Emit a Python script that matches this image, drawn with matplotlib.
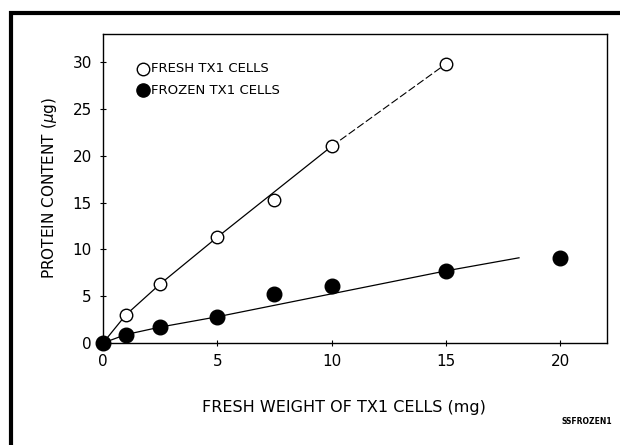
import numpy as np
import matplotlib
matplotlib.use('Agg')
import matplotlib.pyplot as plt
from matplotlib.patches import Rectangle

# fresh weight (mg) vs protein content (ug)
fresh_x = [1, 2.5, 5, 7.5, 10, 15]
fresh_y = [3.0, 6.3, 11.3, 15.3, 21.0, 29.8]
frozen_x = [0, 1, 2.5, 5, 7.5, 10, 15, 20]
frozen_y = [0, 0.9, 1.7, 2.8, 5.2, 6.1, 7.7, 9.1]

# drawn fit lines (solid lower part, broken upper part on the fresh one)
fresh_fit_x = [0, 1, 2.5, 5, 10]
fresh_fit_y = [0, 3.0, 6.3, 11.3, 21.0]
fresh_fit2_x = [10, 15]
fresh_fit2_y = [21.0, 29.8]
frozen_fit_x = [0, 1, 2.5, 5, 15, 18.2]
frozen_fit_y = [0, 0.9, 1.7, 2.8, 7.7, 9.1]

xticks = [0, 5, 10, 15, 20]
yticks = [0, 5, 10, 15, 20, 25, 30]

fig = plt.figure(figsize=(6.2, 4.45), dpi=100)

# thick outer frame (cut off at right and bottom like the scan)
fig.patches.append(Rectangle((11/620, -0.05), 1.1, (445-13)/445 + 0.05,
                             transform=fig.transFigure, fill=False,
                             edgecolor='black', linewidth=3))

ax = fig.add_axes([103/620, 1-343/445, (607-103)/620, (343-34)/445])

ax.plot(fresh_fit_x, fresh_fit_y, color='black', linewidth=0.9)
ax.plot(fresh_fit2_x, fresh_fit2_y, color='black', linewidth=0.8,
        dashes=(7, 2.5))
ax.plot(frozen_fit_x, frozen_fit_y, color='black', linewidth=0.9)
ax.plot(fresh_x, fresh_y, 'o', markersize=9, markerfacecolor='white',
        markeredgecolor='black', markeredgewidth=1.0, clip_on=False, zorder=3)
ax.plot(frozen_x, frozen_y, 'o', markersize=10.5, color='black',
        clip_on=False, zorder=4)

ax.set_xlim(0, 22.05)
ax.set_ylim(0, 33)
ax.set_xticks(xticks)
ax.set_yticks(yticks)
ax.tick_params(direction='inout', length=4, width=0.8, labelsize=11, pad=6)
for s in ax.spines.values():
    s.set_linewidth(1.0)

ax.set_xlabel('FRESH WEIGHT OF TX1 CELLS (mg)', fontsize=11.5)
ax.xaxis.set_label_coords(0.478, -0.185)
ax.set_ylabel('PROTEIN CONTENT ($\\mu$g)', fontsize=11, labelpad=10)

# legend drawn by hand
ax.plot([1.75], [29.3], 'o', markersize=9, markerfacecolor='white',
        markeredgecolor='black', markeredgewidth=1.0)
ax.plot([1.75], [27.0], 'o', markersize=9.5, color='black')
ax.text(2.1, 29.3, 'FRESH TX1 CELLS', fontsize=9.5, va='center')
ax.text(2.1, 27.0, 'FROZEN TX1 CELLS', fontsize=9.5, va='center')

fig.text(612/620, 1-421/445, 'SSFROZEN1', fontsize=5.5, fontweight='bold',
         ha='right', va='center')

fig.savefig('out.png', dpi=100)
